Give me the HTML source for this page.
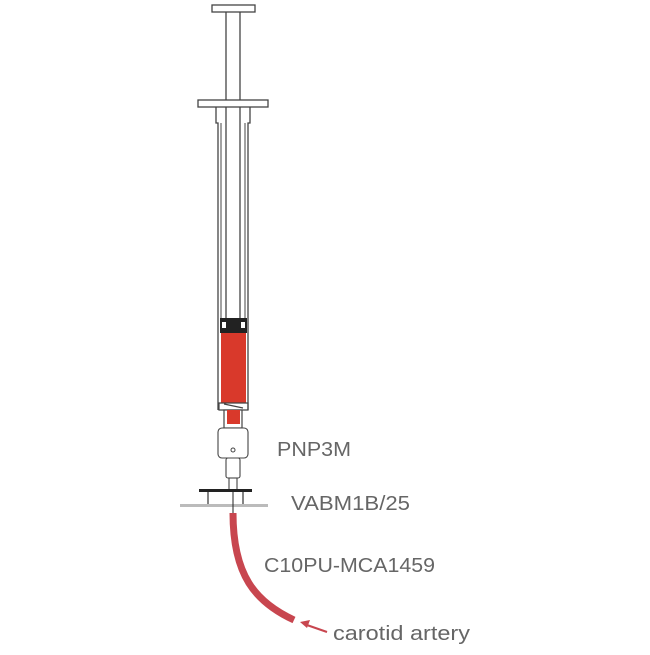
<!DOCTYPE html>
<html><head><style>body{margin:0;background:#fff}</style></head><body>
<svg width="650" height="650" viewBox="0 0 650 650" xmlns="http://www.w3.org/2000/svg" font-family="Liberation Sans, sans-serif">
<g fill="#fff" stroke="#444" stroke-width="1.3">
<rect x="212" y="5" width="43" height="7"/>
<path d="M226 12 V318 M240 12 V318" fill="none"/>
<rect x="198" y="100" width="70" height="7"/>
<path d="M216 107 V123 H218 V410 M250 107 V123 H248 V410" fill="none"/>
<path d="M221 123 V318 M245 123 V318" fill="none" stroke-width="1"/>
</g>
<rect x="220" y="318" width="27" height="15" fill="#222"/>
<rect x="222" y="322" width="4" height="6" fill="#fff"/>
<rect x="241" y="322" width="4" height="6" fill="#fff"/>
<rect x="221" y="333" width="25" height="70" fill="#d9392b"/>
<g stroke="#444" stroke-width="1.2" fill="none">
<path d="M219 403 H248 V410 H219 Z M224 404 L243 408"/>
<rect x="224" y="410" width="18" height="18" fill="#fff"/>
</g>
<rect x="227" y="410" width="13" height="14" fill="#d9392b"/>
<g stroke="#444" stroke-width="1.1" fill="#fff">
<rect x="218" y="428" width="30" height="30" rx="4"/>
<rect x="226" y="458" width="14" height="20" rx="2"/>
<rect x="229" y="478" width="8" height="12"/>
</g>
<circle cx="233" cy="450" r="2" fill="none" stroke="#444"/>
<rect x="199" y="489" width="53" height="3" fill="#222"/>
<path d="M208 492 V505 M243 492 V505" stroke="#333" stroke-width="1.2"/>
<rect x="180" y="504" width="88" height="3" fill="#bbb"/>
<path d="M233 492 V525" stroke="#222" stroke-width="1"/>
<path d="M233 513 C233 575 255 602 294 620" stroke="#c8464f" stroke-width="7" fill="none"/>
<path d="M327 632 L304 624" stroke="#c8464f" stroke-width="2"/>
<path d="M300 622 L310 620 L307 628 Z" fill="#c8464f"/>
<g fill="#666" font-size="20">
<text x="277" y="456" textLength="74" lengthAdjust="spacingAndGlyphs">PNP3M</text>
<text x="291" y="510" textLength="119" lengthAdjust="spacingAndGlyphs">VABM1B/25</text>
<text x="264" y="572" textLength="171" lengthAdjust="spacingAndGlyphs">C10PU-MCA1459</text>
<text x="333" y="640" textLength="137" lengthAdjust="spacingAndGlyphs">carotid artery</text>
</g>
</svg>
</body></html>
